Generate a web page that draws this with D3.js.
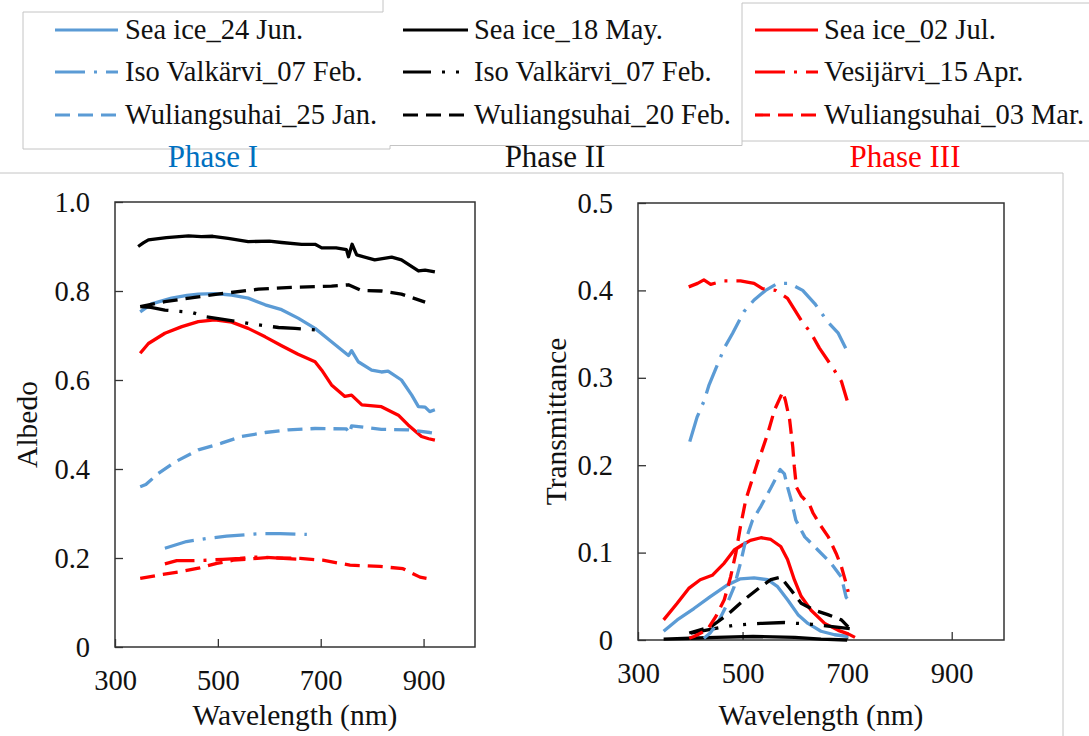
<!DOCTYPE html>
<html>
<head>
<meta charset="utf-8">
<title>Albedo and transmittance</title>
<script src="https://d3js.org/d3.v7.min.js"></script>
<style>
  body, html { margin: 0; padding: 0; background: #fff; }
  svg text { font-family: 'Liberation Serif', 'Times New Roman', Times, serif; fill: #111; }
</style>
</head>
<body>
<svg id="chart" width="1089" height="736"></svg>
<script>
// ---- data (wavelength nm, value) ----
var albSeaIce24Jun = [[349,0.753],[371,0.771],[410,0.784],[440,0.790],[462,0.793],[494,0.794],[527,0.791],[559,0.784],[592,0.769],[624,0.758],[656,0.739],[689,0.716],[721,0.686],[754,0.655],[760,0.666],[773,0.641],[799,0.622],[818,0.618],[831,0.620],[857,0.600],[877,0.566],[890,0.540],[903,0.539],[912,0.529],[922,0.533]];
var albSeaIce18May = [[345,0.900],[355,0.908],[365,0.915],[400,0.920],[443,0.924],[468,0.922],[490,0.923],[520,0.918],[559,0.911],[600,0.912],[624,0.909],[663,0.905],[689,0.905],[702,0.897],[730,0.897],[750,0.893],[754,0.877],[761,0.905],[770,0.881],[805,0.870],[838,0.876],[857,0.870],[890,0.845],[903,0.847],[922,0.843]];
var albSeaIce02Jul = [[349,0.660],[365,0.682],[397,0.705],[430,0.720],[462,0.731],[494,0.735],[527,0.730],[559,0.716],[592,0.697],[624,0.677],[656,0.658],[689,0.641],[702,0.622],[721,0.589],[747,0.563],[760,0.566],[780,0.544],[818,0.540],[851,0.521],[870,0.499],[896,0.473],[910,0.468],[922,0.465]];
var albIsoBlue = [[397,0.222],[439,0.237],[478,0.244],[517,0.249],[562,0.253],[588,0.255],[621,0.255],[673,0.253]];
var albIsoBlack = [[350,0.765],[370,0.763],[397,0.757],[449,0.752],[478,0.742],[507,0.737],[559,0.727],[618,0.718],[650,0.716],[699,0.712]];
var albVesi15Apr = [[397,0.187],[420,0.194],[445,0.194],[478,0.195],[510,0.197],[543,0.199],[569,0.202],[588,0.202],[627,0.199],[666,0.197]];
var albWul25Jan = [[349,0.360],[360,0.365],[384,0.390],[417,0.416],[462,0.443],[507,0.458],[546,0.473],[592,0.482],[637,0.488],[689,0.491],[750,0.490],[756,0.480],[760,0.497],[818,0.489],[870,0.488],[912,0.482],[922,0.480]];
var albWul20Feb = [[349,0.765],[397,0.776],[462,0.787],[514,0.795],[579,0.804],[643,0.808],[721,0.811],[754,0.814],[780,0.801],[818,0.800],[857,0.793],[903,0.775]];
var albWul03Mar = [[349,0.154],[387,0.162],[426,0.169],[465,0.178],[498,0.188],[530,0.195],[595,0.201],[660,0.199],[704,0.195],[757,0.184],[815,0.181],[860,0.176],[893,0.157],[916,0.152]];

var trSeaIce24Jun = [[349,0.010],[375,0.023],[407,0.036],[439,0.050],[471,0.063],[496,0.070],[522,0.071],[548,0.069],[567,0.061],[586,0.046],[606,0.029],[625,0.019],[650,0.010],[676,0.006],[702,0.004]];
var trSeaIce18May = [[349,0.001],[400,0.002],[450,0.003],[520,0.004],[600,0.003],[650,0.001],[700,0.000]];
var trSeaIce02Jul = [[349,0.023],[375,0.042],[397,0.059],[419,0.069],[442,0.074],[465,0.088],[484,0.103],[500,0.109],[515,0.114],[535,0.117],[554,0.115],[573,0.107],[586,0.092],[599,0.069],[612,0.050],[631,0.034],[657,0.019],[683,0.011],[702,0.007],[715,0.003]];
var trIsoBlue = [[399,0.227],[413,0.255],[426,0.273],[436,0.292],[452,0.315],[465,0.334],[481,0.351],[503,0.376],[522,0.389],[544,0.400],[567,0.408],[590,0.408],[615,0.400],[638,0.385],[663,0.364],[683,0.351],[702,0.328]];
var trIsoBlack = [[401,0.008],[446,0.013],[484,0.017],[535,0.019],[580,0.020],[631,0.018],[676,0.015],[705,0.013]];
var trVesi15Apr = [[397,0.404],[414,0.408],[426,0.412],[439,0.407],[465,0.411],[496,0.411],[522,0.408],[538,0.402],[563,0.400],[586,0.391],[612,0.366],[631,0.351],[647,0.334],[673,0.311],[689,0.296],[700,0.274]];
var trWul25Jan = [[426,0.002],[438,0.008],[452,0.019],[468,0.038],[484,0.061],[496,0.088],[506,0.114],[519,0.137],[535,0.153],[555,0.175],[572,0.195],[580,0.190],[586,0.175],[593,0.160],[602,0.137],[619,0.118],[644,0.103],[669,0.088],[689,0.072],[698,0.049],[702,0.046]];
var trWul20Feb = [[398,0.008],[439,0.015],[471,0.029],[503,0.046],[535,0.061],[554,0.069],[573,0.072],[593,0.057],[612,0.042],[638,0.034],[663,0.029],[689,0.023],[702,0.015]];
var trWul03Mar = [[398,0.002],[407,0.004],[433,0.012],[449,0.027],[465,0.046],[477,0.072],[487,0.099],[496,0.130],[506,0.160],[529,0.204],[535,0.213],[548,0.236],[561,0.263],[577,0.284],[582,0.274],[590,0.252],[596,0.221],[599,0.198],[603,0.175],[612,0.165],[628,0.155],[635,0.145],[648,0.132],[664,0.118],[679,0.099],[689,0.084],[698,0.065],[702,0.055]];

var seriesNames = ["Sea ice_24 Jun.", "Sea ice_18 May.", "Sea ice_02 Jul.",
                   "Iso Valkärvi_07 Feb.", "Iso Valkärvi_07 Feb.", "Vesijärvi_15 Apr.",
                   "Wuliangsuhai_25 Jan.", "Wuliangsuhai_20 Feb.", "Wuliangsuhai_03 Mar."];
var albedoSeries = [albSeaIce24Jun, albSeaIce18May, albSeaIce02Jul, albIsoBlue, albIsoBlack, albVesi15Apr, albWul25Jan, albWul20Feb, albWul03Mar];
var transSeries = [trSeaIce24Jun, trSeaIce18May, trSeaIce02Jul, trIsoBlue, trIsoBlack, trVesi15Apr, trWul25Jan, trWul20Feb, trWul03Mar];
var phaseLabels = ["Phase I", "Phase II", "Phase III"];
var xTicks = [300, 500, 700, 900];
var albedoTicks = [0, 0.2, 0.4, 0.6, 0.8, 1.0];
var transTicks = [0, 0.1, 0.2, 0.3, 0.4, 0.5];

// ---- styles ----
var blue = "#5b9bd5", red = "#ff0000", black = "#000000";
var colors = [blue, black, red, blue, black, red, blue, black, red];
var dashes = [null, null, null, "30,9,3,9", "28,11,3,11,3,11", "30,9,3,9", "15,8", "15,8", "15,8"];
var phaseColors = ["#0070c0", "#111111", "#ff0000"];
var serif = "'Liberation Serif', 'Times New Roman', Times, serif";

var svg = d3.select("#chart");

// grey panel outlines from the composite figure
var grey = "#c4c4c4";
svg.append("path")
  .attr("d", "M383,0V12H23V149H390V145.5H742V141H1089M742,141V3H1089")
  .attr("fill", "none").attr("stroke", grey).attr("stroke-width", 1);
svg.append("path")
  .attr("d", "M0,173H1063V736")
  .attr("fill", "none").attr("stroke", grey).attr("stroke-width", 1);

// ---- legend ----
var legCols = [{x1: 55, x2: 118, tx: 125}, {x1: 403, x2: 468, tx: 474}, {x1: 755, x2: 818, tx: 824}];
var legRows = [30, 72, 115];
seriesNames.forEach(function(name, i) {
  var c = legCols[i % 3], ry = legRows[Math.floor(i / 3)];
  svg.append("line")
    .attr("x1", c.x1).attr("x2", c.x2).attr("y1", ry).attr("y2", ry)
    .attr("stroke", colors[i]).attr("stroke-width", 3.2)
    .attr("stroke-dasharray", dashes[i]);
  svg.append("text")
    .attr("x", c.tx).attr("y", ry + 9)
    .attr("font-family", serif)
    .attr("font-size", 28.5)
    .text(name);
});

var phaseX = [213, 555, 905];
phaseLabels.forEach(function(p, i) {
  svg.append("text")
    .attr("x", phaseX[i]).attr("y", 167)
    .attr("text-anchor", "middle")
    .attr("font-family", serif)
    .attr("font-size", 31)
    .style("fill", phaseColors[i])
    .text(p);
});

// ---- panels ----
function drawPanel(opts) {
  var x = d3.scaleLinear().domain([300, 1000]).range([opts.left, opts.right]);
  var y = d3.scaleLinear().domain([0, opts.ymax]).range([opts.bottom, opts.top]);
  var g = svg.append("g");

  var fmt = function(d) { return d === 0 ? "0" : d3.format(".1f")(d); };

  var xa = g.append("g")
    .attr("transform", "translate(0," + opts.bottom + ")")
    .call(d3.axisBottom(x).tickValues(xTicks).tickSize(-8).tickPadding(23).tickFormat(d3.format("d")));
  var ya = g.append("g")
    .attr("transform", "translate(" + opts.left + ",0)")
    .call(d3.axisLeft(y).tickValues(opts.ticks).tickSize(-8).tickPadding(25).tickFormat(fmt));
  [xa, ya].forEach(function(a) {
    a.attr("font-family", serif);
    a.select(".domain").remove();
    a.selectAll("line").attr("stroke", "#333").attr("stroke-width", 1.3);
    a.selectAll("text").attr("font-size", 28.5).attr("fill", "#111");
  });

  g.append("rect")
    .attr("x", opts.left).attr("y", opts.top)
    .attr("width", opts.right - opts.left).attr("height", opts.bottom - opts.top)
    .attr("fill", "none").attr("stroke", "#333").attr("stroke-width", 1.5);

  var line = d3.line().x(function(d) { return x(d[0]); }).y(function(d) { return y(d[1]); });
  opts.series.forEach(function(s, i) {
    g.append("path")
      .datum(s)
      .attr("d", line)
      .attr("fill", "none")
      .attr("stroke", colors[i])
      .attr("stroke-width", 3.3)
      .attr("stroke-linejoin", "round")
      .attr("stroke-dasharray", dashes[i]);
  });

  g.append("text")
    .attr("x", (opts.left + opts.right) / 2).attr("y", 725)
    .attr("text-anchor", "middle").attr("font-size", 29.5)
    .attr("font-family", serif)
    .text("Wavelength (nm)");
  g.append("text")
    .attr("transform", "translate(" + opts.titleX + "," + (opts.top + opts.bottom) / 2 + ") rotate(-90)")
    .attr("text-anchor", "middle").attr("font-size", 29.5)
    .attr("font-family", serif)
    .text(opts.title);
}

drawPanel({left: 115, right: 475, top: 202, bottom: 647, ymax: 1.0, ticks: albedoTicks,
           series: albedoSeries, title: "Albedo", titleX: 37});
drawPanel({left: 638, right: 1004, top: 203, bottom: 640, ymax: 0.5, ticks: transTicks,
           series: transSeries, title: "Transmittance", titleX: 566});
</script>
</body>
</html>
